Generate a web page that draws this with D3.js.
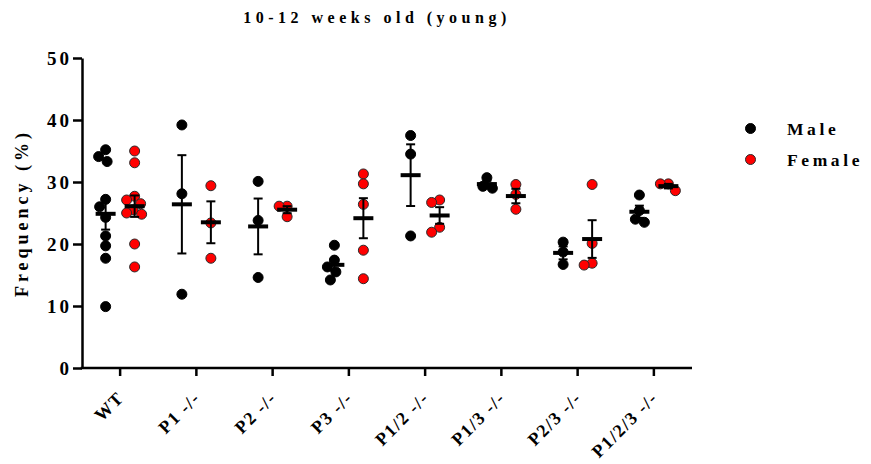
<!DOCTYPE html>
<html>
<head>
<meta charset="utf-8">
<script src="https://cdn.jsdelivr.net/npm/d3@7"></script>
<style>
  html, body { margin: 0; padding: 0; background: #fff; }
  svg { display: block; }
  text { font-family: "Liberation Serif", "Times New Roman", serif; font-weight: bold; fill: #000; }
</style>
</head>
<body>
<svg id="chart" width="871" height="464"></svg>
<script>
// Genotype groups along the x axis
const groups = ["WT", "P1 -/-", "P2 -/-", "P3 -/-", "P1/2 -/-", "P1/3 -/-", "P2/3 -/-", "P1/2/3 -/-"];

// Individual frequencies (%) per animal, one list per group
const maleValues = [
  [35.2, 34.1, 33.3, 27.2, 26.0, 24.3, 21.3, 19.7, 17.7, 9.9],
  [39.2, 28.1, 11.9],
  [30.1, 23.8, 14.6],
  [19.8, 17.4, 16.3, 15.5, 14.2],
  [37.5, 34.5, 21.3],
  [30.7, 29.3, 29.0],
  [20.3, 18.7, 16.7],
  [27.9, 25.4, 24.0, 23.5]
];
const femaleValues = [
  [35.0, 33.1, 27.7, 27.1, 26.5, 25.5, 25.0, 24.8, 20.0, 16.3],
  [29.4, 23.4, 17.7],
  [26.1, 26.1, 24.4],
  [31.3, 29.7, 26.4, 19.0, 14.4],
  [27.1, 26.7, 22.7, 21.9],
  [29.6, 28.0, 25.6],
  [29.6, 20.1, 16.9, 16.6],
  [29.7, 29.7, 28.6]
];

const yTicks = [0, 10, 20, 30, 40, 50];
const series = [
  { name: "Male", values: maleValues, fill: "#000000", stroke: "#000000", side: -1 },
  { name: "Female", values: femaleValues, fill: "#ff0000", stroke: "#2a2a2a", side: 1 }
];

const svg = d3.select("#chart");
const plot = { left: 82, right: 692, top: 58, bottom: 368 };

const x = d3.scaleBand().domain(groups).range([plot.left, plot.right]).padding(0);
const y = d3.scaleLinear().domain([0, 50]).range([plot.bottom, plot.top]);

const r = 5;
const sideOffset = 14.5;

// Simple column-scatter: nudge points sideways when they would overlap
function spread(vals, cx) {
  const placed = [];
  const minDist = 9.5;
  const order = vals.map((v, i) => ({ v, i })).sort((a, b) => b.v - a.v);
  order.forEach(p => {
    const py = y(p.v);
    let best = 0;
    for (let k = 0; k <= 40; k++) {
      const dx = (k % 2 === 0 ? 1 : -1) * Math.ceil(k / 2) * 0.5;
      const ok = placed.every(q => Math.hypot(q.x - (cx + dx), q.y - py) >= minDist);
      if (ok) { best = dx; break; }
      if (Math.abs(dx) >= 8) { best = dx; break; }
    }
    placed.push({ x: cx + best, y: py, v: p.v });
  });
  return placed;
}

// Axes
const yAxis = d3.axisLeft(y).tickValues(yTicks).tickSize(9).tickSizeOuter(0).tickPadding(1);
const gy = svg.append("g").attr("transform", `translate(${plot.left},0)`).call(yAxis);
gy.select(".domain").attr("stroke", "#000").attr("stroke-width", 2.5);
gy.selectAll(".tick line").attr("stroke", "#000").attr("stroke-width", 2.5);
gy.selectAll(".tick text")
  .attr("font-size", 19).attr("letter-spacing", 3)
  .attr("font-family", "Liberation Serif").attr("font-weight", "bold")
  .attr("dy", "0.36em");

const xAxis = d3.axisBottom(x).tickSize(8).tickSizeOuter(0).tickFormat(() => "");
const gx = svg.append("g").attr("transform", `translate(0,${plot.bottom})`).call(xAxis);
gx.select(".domain").attr("stroke", "#000").attr("stroke-width", 2.5)
  .attr("d", `M${plot.left - 1.25},0H${plot.right}`);
gx.selectAll(".tick line").attr("stroke", "#000").attr("stroke-width", 2.5);

// Rotated category labels
svg.append("g").selectAll("text").data(groups).join("text")
  .attr("transform", d => `translate(${x(d) + x.bandwidth() / 2 + 5},${plot.bottom + 31}) rotate(-45)`)
  .attr("text-anchor", "end")
  .attr("font-size", 18)
  .attr("letter-spacing", 1.5)
  .text(d => d);

// Points, means and SEM bars
series.forEach(s => {
  const g = svg.append("g");
  s.values.forEach((vals, gi) => {
    const cx = x(groups[gi]) + x.bandwidth() / 2 + s.side * sideOffset;
    const pts = spread(vals, cx);
    g.selectAll(null).data(pts).join("circle")
      .attr("cx", d => d.x).attr("cy", d => d.y).attr("r", r)
      .attr("fill", s.fill).attr("stroke", s.stroke).attr("stroke-width", 1);

    const m = d3.mean(vals);
    const sem = d3.deviation(vals) / Math.sqrt(vals.length);
    const eg = g.append("g").attr("stroke", "#000");
    eg.append("line").attr("x1", cx).attr("x2", cx)
      .attr("y1", y(m - sem)).attr("y2", y(m + sem)).attr("stroke-width", 2);
    [m - sem, m + sem].forEach(v => {
      eg.append("line").attr("x1", cx - 4.5).attr("x2", cx + 4.5)
        .attr("y1", y(v)).attr("y2", y(v)).attr("stroke-width", 2);
    });
    eg.append("line").attr("x1", cx - 10).attr("x2", cx + 10)
      .attr("y1", y(m)).attr("y2", y(m)).attr("stroke-width", 4);
  });
});

// Y axis title
svg.append("text")
  .attr("transform", `translate(28,${(plot.top + plot.bottom) / 2}) rotate(-90)`)
  .attr("text-anchor", "middle")
  .attr("font-size", 18).attr("letter-spacing", 4)
  .text("Frequency (%)");

// Title
svg.append("text")
  .attr("x", 377).attr("y", 23)
  .attr("text-anchor", "middle")
  .attr("font-size", 16).attr("letter-spacing", 4.5)
  .text("10-12 weeks old (young)");

// Legend
const legend = svg.append("g");
series.forEach((s, i) => {
  const ly = 128.5 + i * 31;
  legend.append("circle").attr("cx", 750.5).attr("cy", ly).attr("r", r)
    .attr("fill", s.fill).attr("stroke", s.stroke).attr("stroke-width", 1);
  legend.append("text").attr("x", 787).attr("y", ly + 6)
    .attr("font-size", 17.5).attr("letter-spacing", 3.6)
    .text(s.name);
});
</script>
</body>
</html>
